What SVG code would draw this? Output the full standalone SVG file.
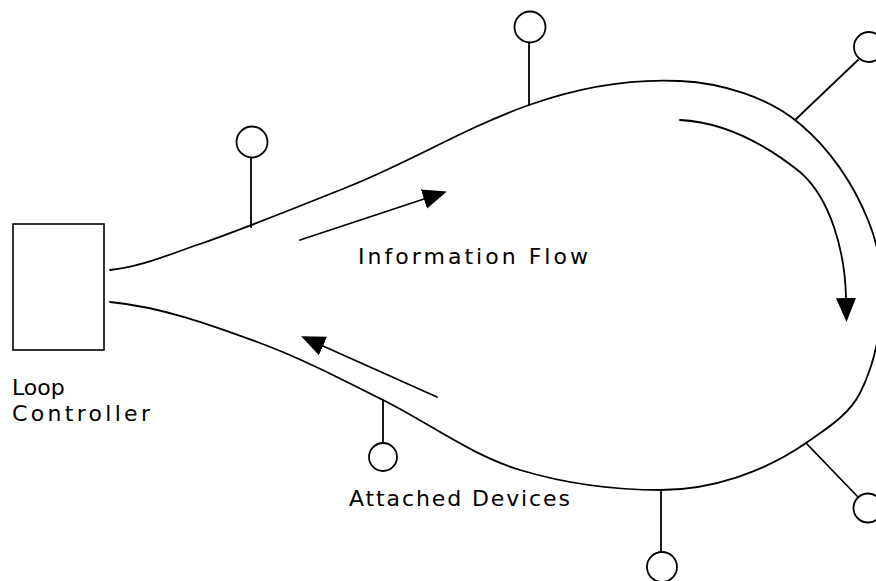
<svg xmlns="http://www.w3.org/2000/svg" width="876" height="581" viewBox="0 0 876 581">
  <style>
    .wire { fill: none; stroke: #000; stroke-width: 1.8; stroke-linecap: round; stroke-linejoin: round; }
    .dev { fill: #fff; stroke: #000; stroke-width: 1.8; }
    .box { fill: #fff; stroke: #000; stroke-width: 1.6; }
    .lbl { font-family: "DejaVu Sans", "Liberation Sans", sans-serif; font-size: 22px; fill: #000; }
  </style>
  <defs>
    <marker id="head" markerUnits="userSpaceOnUse" markerWidth="28" markerHeight="24" refX="0" refY="12" orient="auto" viewBox="0 0 28 24">
      <path d="M0,2 L24,12 L0,22 Z" fill="#000"/>
    </marker>
  </defs>

  <rect width="876" height="581" fill="#fff"/>

  <g id="connectors">
    <!-- the loop cable, leaving and returning to the controller -->
    <path id="loop" class="wire" d="M110,270 C141,267 170,254 200,244 C251,226 300,206 350,186 C410,162 468,126.5 529,105 C577,88 629,78.5 680,81 C722,83 768,97 800,124 C830,149 853.5,184 868,220 C877,242 882,266 882,290 C882,325 875.6,362 860,393 C849,415 826,429 806,443 C764,472 712,490 661,490 C614,490 565,483.5 520,470 C471,455 429,423 383,400 C343,380 302,358.6 260,343 C211,325 162,307 110,302"/>
    <!-- drop lines to the attached devices -->
    <path class="wire" d="M251,158 L251,227"/>
    <path class="wire" d="M529,43 L529,105"/>
    <path class="wire" d="M795,120 L858,60"/>
    <path class="wire" d="M806,443 L857,496"/>
    <path class="wire" d="M661,490 L661,552"/>
    <path class="wire" d="M383,400 L383,443"/>
    <!-- flow direction arrows -->
    <path class="wire" d="M300,240 L424,199" marker-end="url(#head)"/>
    <path class="wire" d="M437,397 L323,346" marker-end="url(#head)"/>
    <path class="wire" d="M680,120 C720,122 760,140 800,172 C830,198 845,250 846,298" marker-end="url(#head)"/>
  </g>

  <g id="controller">
    <rect class="box" x="13" y="224" width="91" height="126"/>
    <text class="lbl" x="12" y="395">Loop</text>
    <text class="lbl" x="12" y="421" textLength="138" lengthAdjust="spacing">Controller</text>
  </g>

  <g id="device-1"><circle class="dev" cx="252" cy="142" r="15.5"/></g>
  <g id="device-2"><circle class="dev" cx="530" cy="27" r="15.5"/></g>
  <g id="device-3"><circle class="dev" cx="869" cy="47" r="15"/></g>
  <g id="device-4"><circle class="dev" cx="868" cy="508" r="14.5"/></g>
  <g id="device-5"><circle class="dev" cx="662" cy="567" r="15"/></g>
  <g id="device-6"><circle class="dev" cx="383" cy="457" r="14"/></g>

  <g id="labels">
    <text class="lbl" x="358" y="264" textLength="230" lengthAdjust="spacing">Information Flow</text>
    <text class="lbl" x="349" y="506" textLength="221" lengthAdjust="spacing">Attached Devices</text>
  </g>
</svg>
